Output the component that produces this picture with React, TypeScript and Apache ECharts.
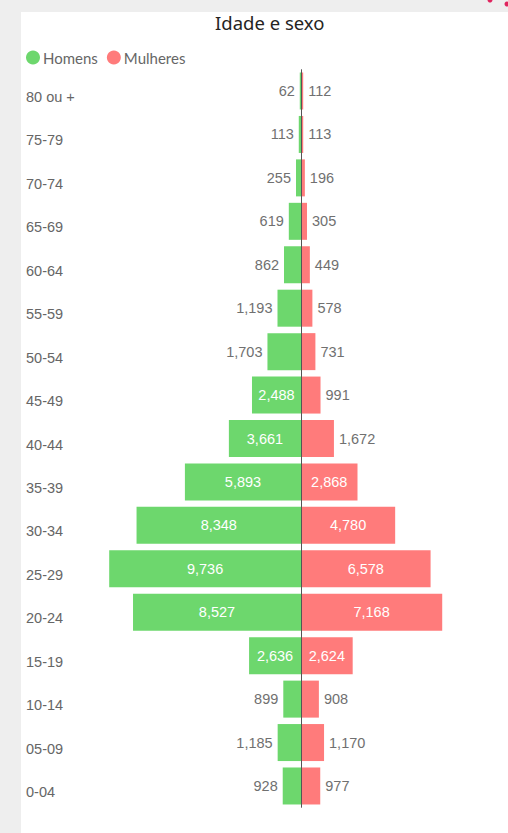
import React, { useEffect, useRef } from "react";
import * as echarts from "echarts";

const categories = ["80 ou +", "75-79", "70-74", "65-69", "60-64", "55-59", "50-54", "45-49", "40-44", "35-39", "30-34", "25-29", "20-24", "15-19", "10-14", "05-09", "0-04"];
const homens = [62, 113, 255, 619, 862, 1193, 1703, 2488, 3661, 5893, 8348, 9736, 8527, 2636, 899, 1185, 928];
const mulheres = [112, 113, 196, 305, 449, 578, 731, 991, 1672, 2868, 4780, 6578, 7168, 2624, 908, 1170, 977];
const insideThreshold = 2000;

const GREEN = "#6dd76d";
const RED = "#ff7b7b";
const FONT = "'Liberation Sans', Arial, sans-serif";

export default function App() {
  const ref = useRef<HTMLDivElement>(null);
  useEffect(() => {
    document.body.style.margin = "0";
    const chart = echarts.init(ref.current!, null, { renderer: "svg" });
    const fmt = (v: number) => Math.abs(v).toLocaleString("en-US");
    const mk = (vals: number[], sign: number, outsidePos: string) =>
      vals.map((v) => {
        const inside = v >= insideThreshold;
        return {
          value: sign * v,
          label: inside
            ? { position: "inside", color: "#ffffff" }
            : { position: outsidePos, color: "#707070", distance: 5 },
        };
      });
    chart.setOption({
      animation: false,
      backgroundColor: "#eeeeee",
      graphic: [
        { type: "rect", z: -10, shape: { x: 21, y: 12, width: 487, height: 821 }, style: { fill: "#ffffff" } },
        { type: "circle", shape: { cx: 490, cy: 0, r: 2.5 }, style: { fill: "#e0245e" } },
        { type: "circle", shape: { cx: 507, cy: 4, r: 2.5 }, style: { fill: "#e0245e" } },
      ],
      title: {
        text: "Idade e sexo",
        left: 210,
        top: 8,
        textStyle: { fontFamily: "'Noto Sans', sans-serif", fontSize: 18.5, fontWeight: "normal", color: "#252423" },
      },
      legend: {
        left: 21,
        top: 45,
        icon: "circle",
        itemWidth: 14,
        itemHeight: 14,
        itemGap: 9,
        textStyle: { fontFamily: "Lato, sans-serif", fontSize: 15, color: "#666666", padding: [0, 0, 0, -2] },
        data: ["Homens", "Mulheres"],
      },
      grid: { left: 104, right: 10, top: 69.3, bottom: 25.3, containLabel: false },
      xAxis: {
        type: "value",
        min: -10000,
        max: 10000,
        show: false,
      },
      yAxis: {
        type: "category",
        data: categories,
        inverse: true,
        axisLine: { show: false },
        axisTick: { show: false },
        axisLabel: {
          align: "left",
          verticalAlign: "top",
          lineHeight: 12,
          margin: 78,
          fontFamily: FONT,
          fontSize: 14.5,
          color: "#666666",
        },
      },
      series: [
        {
          name: "Homens",
          type: "bar",
          data: mk(homens, -1, "left"),
          itemStyle: { color: GREEN },
          barWidth: 37,
          barGap: "-100%",
          label: { show: true, formatter: (p: any) => fmt(p.value), fontFamily: FONT, fontSize: 14.5 },
        },
        {
          name: "Mulheres",
          type: "bar",
          data: mk(mulheres, 1, "right"),
          itemStyle: { color: RED },
          barWidth: 37,
          barGap: "-100%",
          label: { show: true, formatter: (p: any) => fmt(p.value), fontFamily: FONT, fontSize: 14.5 },
          markLine: {
            silent: true,
            symbol: "none",
            label: { show: false },
            lineStyle: { color: "#555555", width: 1, type: "solid" },
            data: [{ xAxis: 0 }],
          },
        },
      ],
    });
    return () => chart.dispose();
  }, []);
  return <div ref={ref} style={{ width: 508, height: 833 }} />;
}
